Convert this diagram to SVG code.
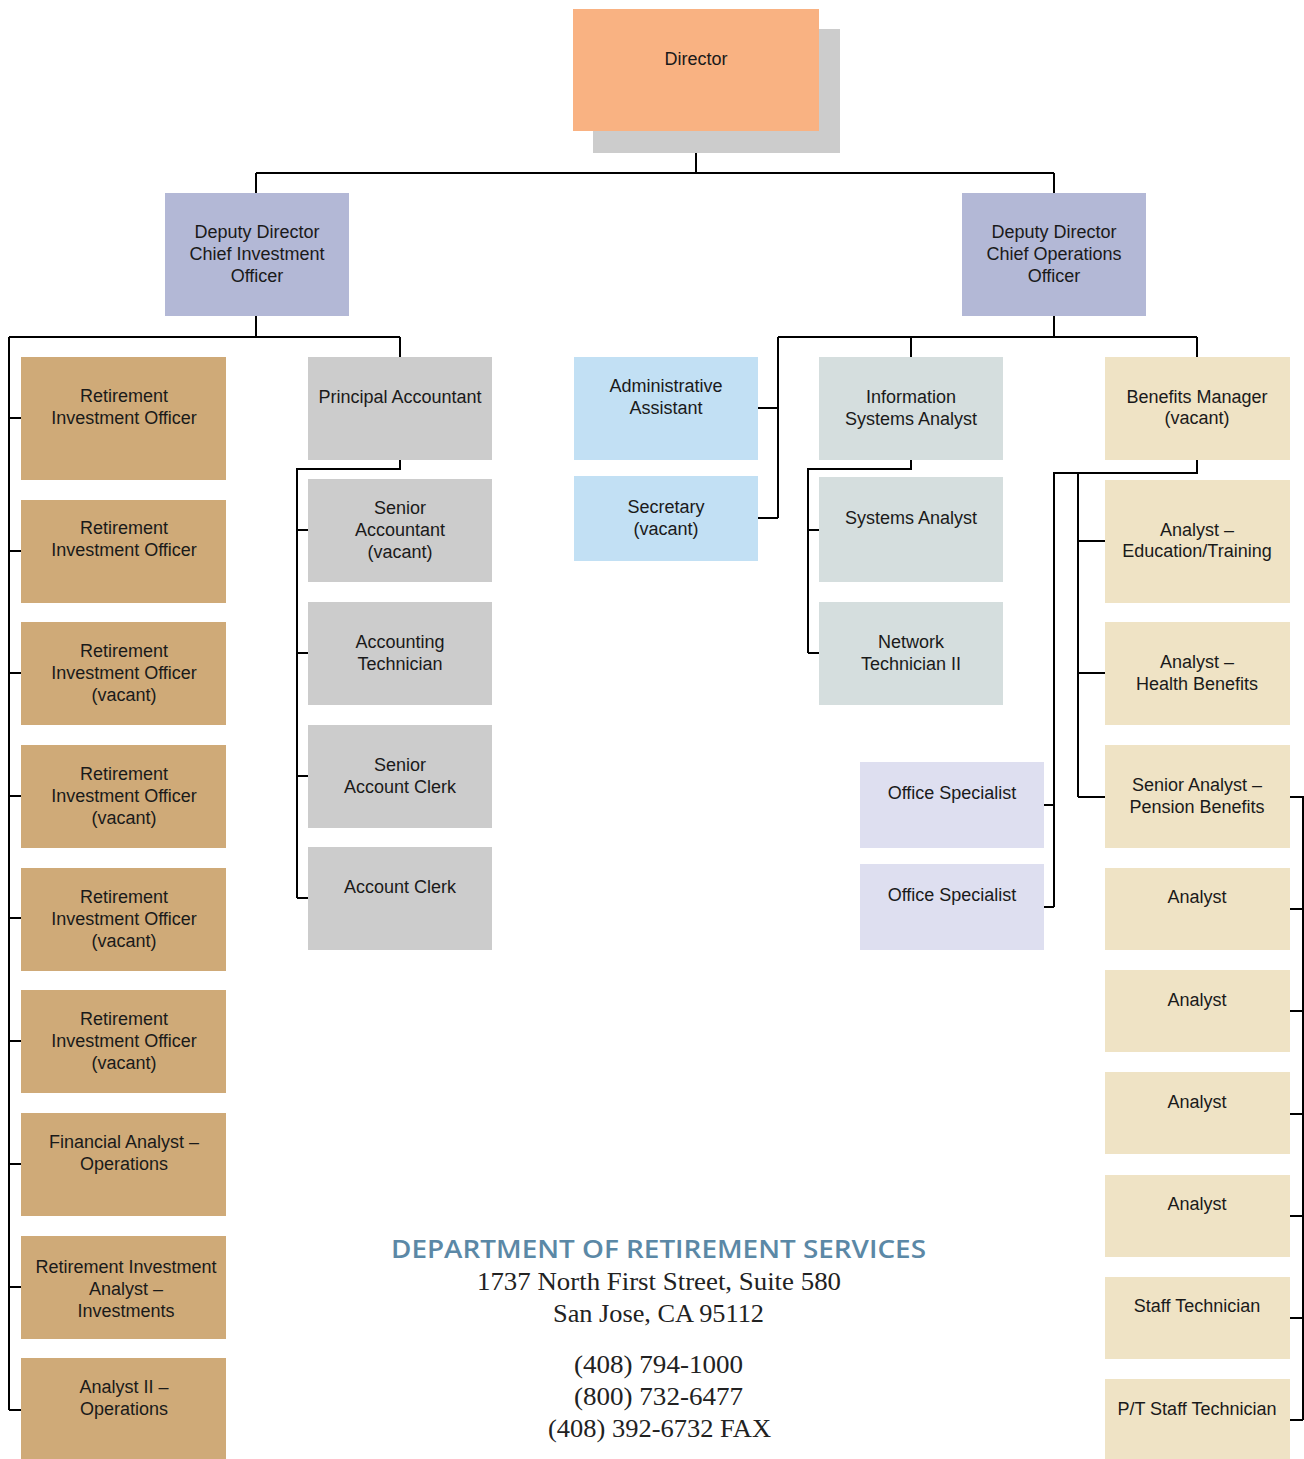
<svg xmlns="http://www.w3.org/2000/svg" width="1304" height="1459" viewBox="0 0 1304 1459">
<style>
text{font-family:"Liberation Sans",Arial,sans-serif;font-size:18px;fill:#1a1a1a;text-anchor:middle}
.dir{fill:#F9B282}.shadow{fill:#CCCCCC}.dep{fill:#B3B8D6}.brown{fill:#CFAA78}.gray{fill:#CCCCCC}
.blue{fill:#C2E0F4}.sage{fill:#D5DEDE}.tan{fill:#EFE3C5}.lav{fill:#DEDFF0}
#connectors path{fill:none;stroke:#000;stroke-width:2}
.title{font-family:"Open Sans","Lato",sans-serif;font-weight:600;font-size:26px;fill:#5B88A6}
.addr{font-family:"Liberation Serif","Times New Roman",serif;font-size:25px;fill:#222}
</style>
<g id="connectors">
<path d="M696 131V173M256 173H1054M256 173V193M1054 173V193"/>
<path d="M256 316V337M9 337H400M400 337V357M9 337V1410"/>
<path d="M9 418H21M9 551H21M9 673H21M9 796H21M9 918H21M9 1041H21M9 1164H21M9 1287H21M9 1410H21"/>
<path d="M400 460V469H297V898M297 530H308M297 653H308M297 776H308M297 898H308"/>
<path d="M1054 316V337M778 337H1197M778 337V518M758 408H778M758 518H778M911 337V357M1197 337V357"/>
<path d="M911 460V469H808V653M808 530H819M808 653H819"/>
<path d="M1197 460V473H1054V907M1078 473V797M1078 541H1105M1078 673H1105M1078 797H1105M1044 805H1054M1044 907H1054"/>
<path d="M1290 797H1303V1420M1290 909H1303M1290 1011H1303M1290 1114H1303M1290 1216H1303M1290 1318H1303M1290 1420H1303"/>
</g>
<g id="director"><rect class="shadow" x="593" y="29" width="247" height="124"/><rect class="dir" x="573" y="9" width="246" height="122"/><text x="696" y="65">Director</text></g>
<g id="dep-cio"><rect class="dep" x="165" y="193" width="184" height="123"/><text x="257" y="238">Deputy Director</text><text x="257" y="260">Chief Investment</text><text x="257" y="282">Officer</text></g>
<g id="dep-coo"><rect class="dep" x="962" y="193" width="184" height="123"/><text x="1054" y="238">Deputy Director</text><text x="1054" y="260">Chief Operations</text><text x="1054" y="282">Officer</text></g>
<g id="rio1"><rect class="brown" x="21" y="357" width="205" height="123"/><text x="124" y="402">Retirement</text><text x="124" y="424">Investment Officer</text></g>
<g id="rio2"><rect class="brown" x="21" y="500" width="205" height="103"/><text x="124" y="534">Retirement</text><text x="124" y="556">Investment Officer</text></g>
<g id="rio3"><rect class="brown" x="21" y="622" width="205" height="103"/><text x="124" y="657">Retirement</text><text x="124" y="679">Investment Officer</text><text x="124" y="701">(vacant)</text></g>
<g id="rio4"><rect class="brown" x="21" y="745" width="205" height="103"/><text x="124" y="780">Retirement</text><text x="124" y="802">Investment Officer</text><text x="124" y="824">(vacant)</text></g>
<g id="rio5"><rect class="brown" x="21" y="868" width="205" height="103"/><text x="124" y="903">Retirement</text><text x="124" y="925">Investment Officer</text><text x="124" y="947">(vacant)</text></g>
<g id="rio6"><rect class="brown" x="21" y="990" width="205" height="103"/><text x="124" y="1025">Retirement</text><text x="124" y="1047">Investment Officer</text><text x="124" y="1069">(vacant)</text></g>
<g id="fin-analyst"><rect class="brown" x="21" y="1113" width="205" height="103"/><text x="124" y="1148">Financial Analyst –</text><text x="124" y="1170">Operations</text></g>
<g id="ria"><rect class="brown" x="21" y="1236" width="205" height="103"/><text x="126" y="1273">Retirement Investment</text><text x="126" y="1295">Analyst –</text><text x="126" y="1317">Investments</text></g>
<g id="analyst2"><rect class="brown" x="21" y="1358" width="205" height="101"/><text x="124" y="1393">Analyst II –</text><text x="124" y="1415">Operations</text></g>
<g id="principal-acct"><rect class="gray" x="308" y="357" width="184" height="103"/><text x="400" y="403">Principal Accountant</text></g>
<g id="senior-acct"><rect class="gray" x="308" y="479" width="184" height="103"/><text x="400" y="514">Senior</text><text x="400" y="536">Accountant</text><text x="400" y="558">(vacant)</text></g>
<g id="acct-tech"><rect class="gray" x="308" y="602" width="184" height="103"/><text x="400" y="648">Accounting</text><text x="400" y="670">Technician</text></g>
<g id="senior-clerk"><rect class="gray" x="308" y="725" width="184" height="103"/><text x="400" y="771">Senior</text><text x="400" y="793">Account Clerk</text></g>
<g id="acct-clerk"><rect class="gray" x="308" y="847" width="184" height="103"/><text x="400" y="893">Account Clerk</text></g>
<g id="admin-asst"><rect class="blue" x="574" y="357" width="184" height="103"/><text x="666" y="392">Administrative</text><text x="666" y="414">Assistant</text></g>
<g id="secretary"><rect class="blue" x="574" y="476" width="184" height="85"/><text x="666" y="513">Secretary</text><text x="666" y="535">(vacant)</text></g>
<g id="isa"><rect class="sage" x="819" y="357" width="184" height="103"/><text x="911" y="403">Information</text><text x="911" y="425">Systems Analyst</text></g>
<g id="sys-analyst"><rect class="sage" x="819" y="477" width="184" height="105"/><text x="911" y="524">Systems Analyst</text></g>
<g id="net-tech"><rect class="sage" x="819" y="602" width="184" height="103"/><text x="911" y="648">Network</text><text x="911" y="670">Technician II</text></g>
<g id="office-spec1"><rect class="lav" x="860" y="762" width="184" height="86"/><text x="952" y="799">Office Specialist</text></g>
<g id="office-spec2"><rect class="lav" x="860" y="864" width="184" height="86"/><text x="952" y="901">Office Specialist</text></g>
<g id="benefits-mgr"><rect class="tan" x="1105" y="357" width="185" height="103"/><text x="1197" y="403">Benefits Manager</text><text x="1197" y="424">(vacant)</text></g>
<g id="analyst-edu"><rect class="tan" x="1105" y="480" width="185" height="123"/><text x="1197" y="536">Analyst –</text><text x="1197" y="557">Education/Training</text></g>
<g id="analyst-health"><rect class="tan" x="1105" y="622" width="185" height="103"/><text x="1197" y="668">Analyst –</text><text x="1197" y="690">Health Benefits</text></g>
<g id="senior-pension"><rect class="tan" x="1105" y="745" width="185" height="103"/><text x="1197" y="791">Senior Analyst –</text><text x="1197" y="813">Pension Benefits</text></g>
<g id="analyst-a"><rect class="tan" x="1105" y="868" width="185" height="82"/><text x="1197" y="903">Analyst</text></g>
<g id="analyst-b"><rect class="tan" x="1105" y="970" width="185" height="82"/><text x="1197" y="1006">Analyst</text></g>
<g id="analyst-c"><rect class="tan" x="1105" y="1072" width="185" height="82"/><text x="1197" y="1108">Analyst</text></g>
<g id="analyst-d"><rect class="tan" x="1105" y="1175" width="185" height="82"/><text x="1197" y="1210">Analyst</text></g>
<g id="staff-tech"><rect class="tan" x="1105" y="1277" width="185" height="82"/><text x="1197" y="1312">Staff Technician</text></g>
<g id="pt-staff-tech"><rect class="tan" x="1105" y="1379" width="185" height="80"/><text x="1197" y="1415">P/T Staff Technician</text></g>
<g id="footer">
<text class="title" x="658.5" y="1258" textLength="535" lengthAdjust="spacingAndGlyphs">DEPARTMENT OF RETIREMENT SERVICES</text>
<text class="addr" x="659" y="1290" textLength="364" lengthAdjust="spacingAndGlyphs">1737 North First Street, Suite 580</text>
<text class="addr" x="658.5" y="1322" textLength="211" lengthAdjust="spacingAndGlyphs">San Jose, CA 95112</text>
<text class="addr" x="658.5" y="1373" textLength="169" lengthAdjust="spacingAndGlyphs">(408) 794-1000</text>
<text class="addr" x="658.5" y="1405" textLength="169" lengthAdjust="spacingAndGlyphs">(800) 732-6477</text>
<text class="addr" x="659.5" y="1437" textLength="223" lengthAdjust="spacingAndGlyphs">(408) 392-6732 FAX</text>
</g>
</svg>
